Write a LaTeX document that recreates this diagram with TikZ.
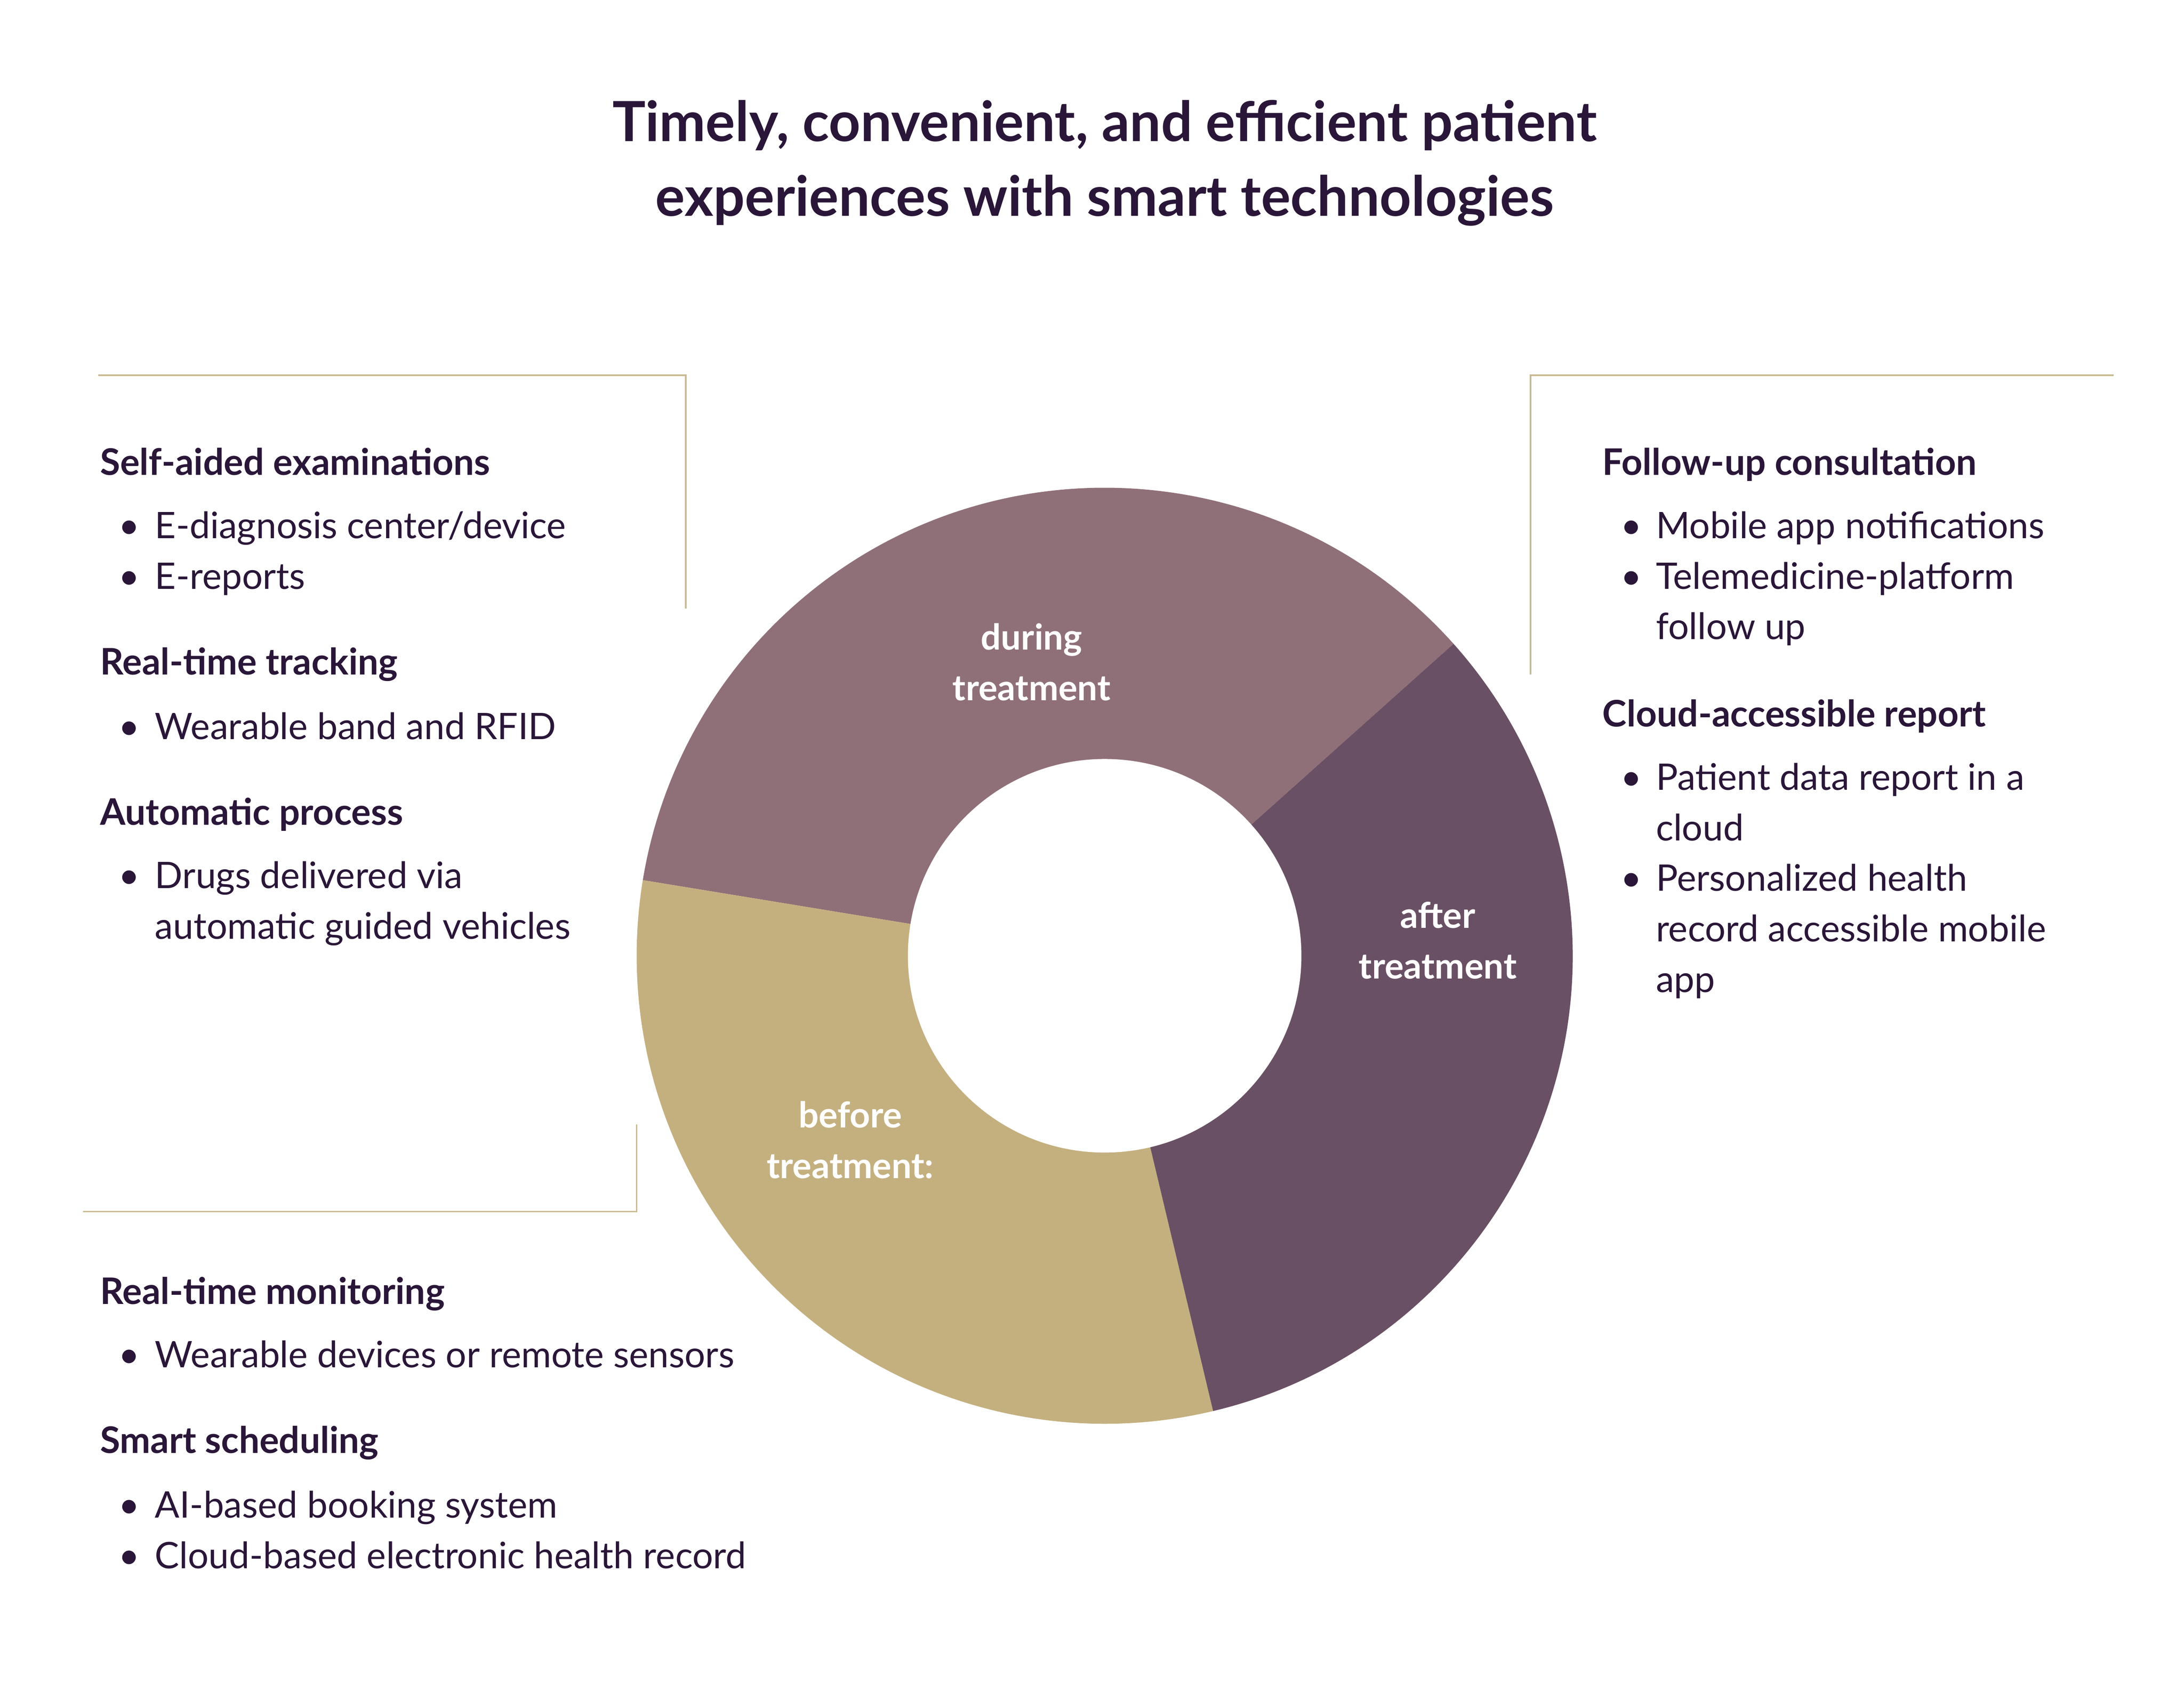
\documentclass[tikz,border=0pt]{standalone}
\usepackage{fontspec}
\setmainfont{Lato}
\usetikzlibrary{positioning}
\definecolor{ink}{HTML}{2A1638}
\definecolor{rule}{HTML}{C9BA90}
\definecolor{during}{HTML}{907078}
\definecolor{after}{HTML}{6A5064}
\definecolor{before}{HTML}{C4B07F}
\tikzset{
  head/.style={anchor=base west, inner sep=0pt, text=ink, font=\bfseries\fontsize{18.5}{25.6}\selectfont},
  item/.style={anchor=base west, inner sep=0pt, text=ink, font=\fontsize{18.5}{25.6}\selectfont},
  dot/.style={anchor=base west, inner sep=0pt, text=ink, font=\fontsize{18.5}{25.6}\selectfont},
  phase/.style={text=white, align=center, font=\bfseries\fontsize{18}{25.6}\selectfont},
  frame/.style={draw=rule, line width=0.8pt}
}
\newcommand{\sector}[3]{\fill[#3] (786,680) -- ++(#1:333) arc[start angle=#1, end angle=#2, radius=333] -- cycle;}
\begin{document}
\begin{tikzpicture}[x=0.025cm, y=-0.025cm]
        \useasboundingbox (0,0) rectangle (1554,1208);

        % title
        \node[text=ink, align=center, font=\bfseries\fontsize{28}{37.7}\selectfont] (title) at (786,116) {Timely, convenient, and efficient patient\\ experiences with smart technologies};

        % donut
        \sector{-41.8}{-170.7}{during}
        \sector{-170.7}{-283.4}{before}
        \sector{-283.4}{-401.8}{after}
        \fill[white] (786,680) circle[radius=140];
        \node[phase] (during) at (734,471) {during\\treatment};
        \node[phase] (after) at (1023,669) {after\\treatment};
        \node[phase] (before) at (605,811) {before\\treatment:};

        % frames
        \draw[frame] (70,267) -- (488,267) -- (488,433);
        \draw[frame] (59,862) -- (453,862) -- (453,800);
        \draw[frame] (1504,267) -- (1089,267) -- (1089,480);

        % left top
        \node[head] (h1) at (71,338) {Self-aided examinations};
        \node[dot] (b11) at (84,383) {\textbullet};
        \node[item] (i11) at (110,383) {E-diagnosis center/device};
        \node[dot] (b12) at (84,419) {\textbullet};
        \node[item] (i12) at (110,419) {E-reports};
        \node[head] (h2) at (71,480) {Real-time tracking};
        \node[dot] (b21) at (84,526) {\textbullet};
        \node[item] (i21) at (110,526) {Wearable band and RFID};
        \node[head] (h3) at (71,587) {Automatic process};
        \node[dot] (b31) at (84,632) {\textbullet};
        \node[item] (i31) at (110,632) {Drugs delivered via};
        \node[item] (i31b) at (110,668) {automatic guided vehicles};

        % left bottom
        \node[head] (h4) at (71,928) {Real-time monitoring};
        \node[dot] (b41) at (84,973) {\textbullet};
        \node[item] (i41) at (110,973) {Wearable devices or remote sensors};
        \node[head] (h5) at (71,1034) {Smart scheduling};
        \node[dot] (b51) at (84,1080) {\textbullet};
        \node[item] (i51) at (110,1080) {AI-based booking system};
        \node[dot] (b52) at (84,1116) {\textbullet};
        \node[item] (i52) at (110,1116) {Cloud-based electronic health record};

        % right
        \node[head] (h6) at (1140,338) {Follow-up consultation};
        \node[dot] (b61) at (1153,383) {\textbullet};
        \node[item] (i61) at (1178,383) {Mobile app notifications};
        \node[dot] (b62) at (1153,419) {\textbullet};
        \node[item] (i62) at (1178,419) {Telemedicine-platform};
        \node[item] (i62b) at (1178,455) {follow up};
        \node[head] (h7) at (1140,517) {Cloud-accessible report};
        \node[dot] (b71) at (1153,562) {\textbullet};
        \node[item] (i71) at (1178,562) {Patient data report in a};
        \node[item] (i71b) at (1178,598) {cloud};
        \node[dot] (b72) at (1153,634) {\textbullet};
        \node[item] (i72) at (1178,634) {Personalized health};
        \node[item] (i72b) at (1178,670) {record accessible mobile};
        \node[item] (i72c) at (1178,706) {app};
    \end{tikzpicture}
\end{document}
